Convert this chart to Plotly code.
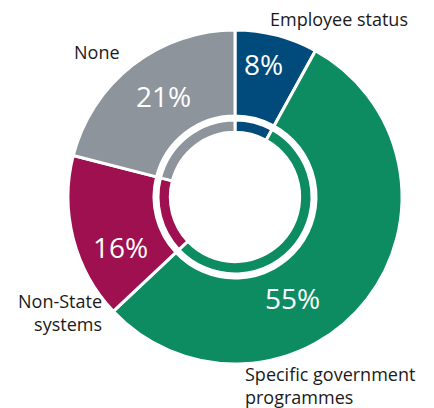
import plotly.graph_objects as go

labels = ['Employee status', 'Specific government programmes', 'Non-State systems', 'None']
values = [8, 55, 16, 21]
colors = ['#004b7b', '#0e8c61', '#9e104f', '#8d949c']

font = 'Open Sans'

fig = go.Figure()
# outer ring
fig.add_trace(go.Pie(
    labels=labels, values=values,
    hole=0.485, sort=False, direction='clockwise', rotation=0,
    marker=dict(colors=colors, line=dict(color='white', width=3)),
    textinfo='none',
    domain=dict(x=[0, 1], y=[0, 1]),
    showlegend=False, hoverinfo='label+percent'
))
# thin inner ring
r = 0.2305
fig.add_trace(go.Pie(
    labels=labels, values=values,
    hole=0.84, sort=False, direction='clockwise', rotation=0,
    marker=dict(colors=colors, line=dict(color='white', width=3)),
    textinfo='none',
    domain=dict(x=[0.5 - r, 0.5 + r], y=[0.5 - r, 0.5 + r]),
    showlegend=False, hoverinfo='label+percent'
))


def px(x):
    return (x - 8 - 60) / 334


def py(y):
    return (356 - (y - 8)) / 334


# percentage labels inside the slices (screen positions of the text centres)
pct_pos = [(263, 64), (292, 298), (120, 247), (163, 96)]
total = sum(values)
for v, (x, y) in zip(values, pct_pos):
    fig.add_annotation(text=f'{round(100 * v / total)}%', x=px(x), y=py(y),
                       xref='paper', yref='paper', showarrow=False,
                       xanchor='center', yanchor='middle',
                       font=dict(size=28, color='white', family=font))

ann = dict(xref='paper', yref='paper', showarrow=False, yanchor='middle',
           font=dict(size=18, color='#1a1a1a', family=font))
fig.add_annotation(text='Employee status', x=px(268), y=py(19), xanchor='left', **ann)
fig.add_annotation(text='None', x=px(97), y=py(52), xanchor='center', **ann)
fig.add_annotation(text='Non-State<br>systems', x=px(104), y=py(312),
                   xanchor='right', align='right', **ann)
fig.add_annotation(text='Specific government<br>programmes', x=px(243), y=py(385),
                   xanchor='left', align='left', **ann)

fig.update_layout(
    width=434, height=408,
    margin=dict(l=60, r=40, t=22, b=52),
    paper_bgcolor='white', plot_bgcolor='white'
)
fig.write_html('out.html')
